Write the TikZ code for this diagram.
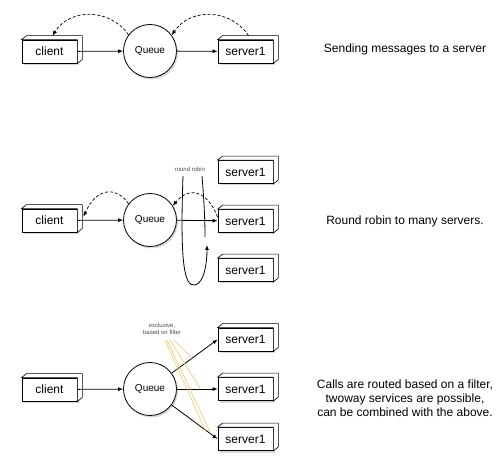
\documentclass[tikz,border=0pt]{standalone}
\usepackage{fontspec}
\setmainfont{Liberation Sans}
\usetikzlibrary{arrows.meta,shadows}

\definecolor{filterline}{RGB}{245,200,95}

\begin{document}
\begin{tikzpicture}[
    x=1pt, y=-1pt,
    every node/.style={font=\fontsize{12}{14}\selectfont},
    box/.style={rectangle, draw, fill=white, line width=0.8pt, minimum width=55pt, minimum height=23pt, inner sep=0pt,
        drop shadow={opacity=0.3, shadow xshift=1.5pt, shadow yshift=-2pt}},
    queue/.style={circle, draw, fill=white, line width=0.8pt, minimum size=53pt, inner sep=0pt, font=\fontsize{10}{12}\selectfont,
        drop shadow={opacity=0.3, shadow xshift=1.5pt, shadow yshift=-2pt}},
    side/.style={draw, fill=white, line width=0.6pt},
    tiny/.style={font=\fontsize{6}{7}\selectfont, text=black!70, align=center},
    note/.style={align=center},
    arrow/.style={-{Latex[length=5pt,width=4pt]}, line width=0.8pt},
    back/.style={-{Latex[length=5pt,width=4pt]}, line width=0.7pt, dash pattern=on 3pt off 2pt},
    filter/.style={draw=filterline, line width=0.6pt},
]
\useasboundingbox (0,0) rectangle (504,476);

% Row 1: one server
\node[box] (client1) at (49.5,51.5) {client};
\node[queue] (queue1) at (150,51) {Queue};
\node[box] (srv1) at (245.5,51.5) {server1};

% Row 2: round robin
\node[box] (client2) at (49.5,220.5) {client};
\node[queue] (queue2) at (150,220) {Queue};
\node[box] (srv2a) at (245.5,172) {server1};
\node[box] (srv2b) at (245.5,221) {server1};
\node[box] (srv2c) at (245.5,270) {server1};

% Row 3: filtered
\node[box] (client3) at (49.5,389.5) {client};
\node[queue] (queue3) at (150,389) {Queue};
\node[box] (srv3a) at (245.5,339.5) {server1};
\node[box] (srv3b) at (245.5,389) {server1};
\node[box] (srv3c) at (245.5,439) {server1};

% 3D faces of the boxes
\foreach \n in {client1,srv1,client2,srv2a,srv2b,srv2c,client3,srv3a,srv3b,srv3c}
    \draw[side] (\n.north west) -- ++(5pt,4pt) -- ([shift={(5pt,4pt)}]\n.north east)
        -- ([shift={(5pt,4pt)}]\n.south east) -- (\n.south east) -- (\n.north east) -- cycle;

% Descriptions
\node[note] (txt1) at (405,49) {Sending messages to a server};
\node[note] (txt2) at (405,221) {Round robin to many servers.};
\node[note] (txt3) at (405,398) {Calls are routed based on a filter,\\twoway services are possible,\\can be combined with the above.};

% Row 1 arrows
\draw[arrow] (client1) -- (queue1);
\draw[arrow] (queue1) -- (srv1);
\draw[back] (queue1.143) .. controls (110,8) and (70,8) .. ([shift={(3pt,4pt)}]client1.north);
\draw[back] ([shift={(3pt,4pt)}]srv1.north) .. controls (230,8) and (190,8) .. (queue1.36);

% Row 2 arrows
\draw[arrow] (client2) -- (queue2);
\draw[arrow] (queue2) -- (srv2b);
\draw[back] (queue2.143) .. controls (118,188) and (98,185) .. ([shift={(6pt,-8pt)}]client2.north east);
\draw[back] ([yshift=4pt]srv2b.west) .. controls (208,192) and (190,185) .. (queue2.32);

% round robin loop
\node[tiny] (rrlabel) at (190,169) {round robin};
\coordinate (rrA) at (202,176);
\coordinate (rrB) at (205,237);
\coordinate (rrC) at (183,176);
\coordinate (rrD) at (207,245);
\draw[line width=0.8pt] (rrA) .. controls (204,200) and (205,220) .. (rrB);
\draw[arrow] (rrC) .. controls (180,262) and (184,287) .. (195,285)
    .. controls (204,283) and (207,264) .. (rrD);

% Row 3 arrows
\draw[arrow] (client3) -- (queue3);
\draw[arrow] (queue3) -- (srv3a.west);
\draw[arrow] (queue3) -- (srv3b.west);
\draw[arrow] (queue3) -- (srv3c.west);

% filter label
\node[tiny] (filterlabel) at (162,329) {exclusive,\\based on filter};
\coordinate (fA) at (174,340);
\coordinate (fB) at (170,340);
\coordinate (fC) at (167,340);
\coordinate (fD) at (165,340);
\coordinate (fA2) at (191,357);
\coordinate (fB2) at (200,388);
\coordinate (fC2) at (210,432);
\coordinate (fD2) at (206,432);
\draw[filter] (fA) -- (fA2);
\draw[filter] (fB) -- (fB2);
\draw[filter] (fC) -- (fC2);
\draw[filter] (fD) -- (fD2);

\end{tikzpicture}
\end{document}
